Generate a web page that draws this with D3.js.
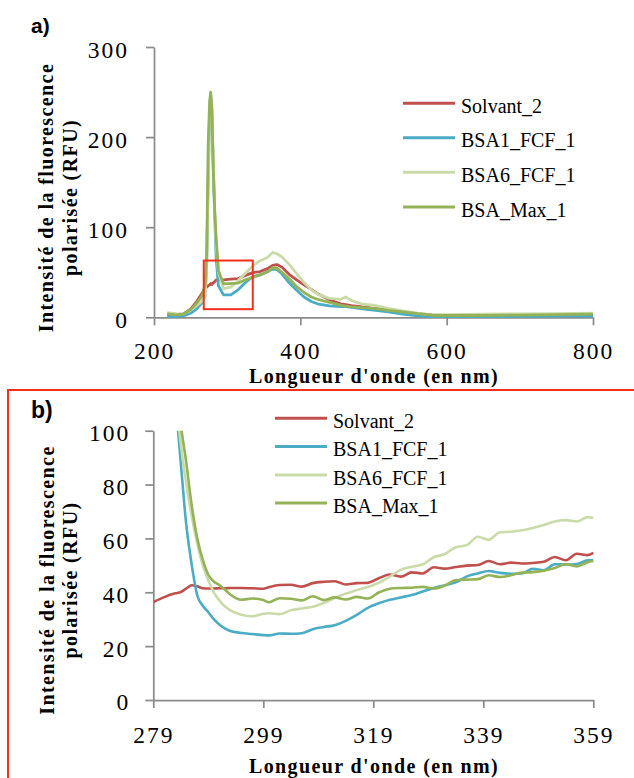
<!DOCTYPE html>
<html>
<head>
<meta charset="utf-8">
<script src="https://cdn.jsdelivr.net/npm/d3@7"></script>
<style>
  body { margin: 0; background: #fff; }
</style>
</head>
<body>
<div id="chart"></div>
<script>
// series names + colours (same for both panels)
const seriesNames = ["Solvant_2", "BSA1_FCF_1", "BSA6_FCF_1", "BSA_Max_1"];
const seriesColors = ["#c0504d", "#4bacc6", "#cadba9", "#94b356"];

// panel a) full spectrum
const wavesA = [218, 230, 240, 250, 258, 265, 270, 272, 274, 276,
  277.5, 279, 281, 283, 285, 288, 295, 305, 315, 325,
  335, 345, 355, 362, 368, 375, 385, 395, 405, 415,
  425, 440, 455, 462, 470, 485, 500, 520, 540, 560,
  580, 600, 650, 700, 750, 800];
const solvantA = [2.6, 3, 3.7, 9, 17, 26, 32, 33.5, 35, 36,
  37.5, 36.4, 38.2, 39.6, 41.4, 41.5, 41.6, 42.3, 43, 46.5,
  49.6, 50.8, 54, 57.5, 58.5, 55.5, 47.5, 41.5, 36, 31,
  25.5, 19.5, 15, 14, 13, 11.5, 10, 8, 6, 4,
  2.8, 2.2, 1.8, 1.8, 2, 2.5];
const bsa1A = [0.7, 1, 1.5, 4.5, 9, 15.5, 24, 60, 150, 225,
  245, 230, 165, 112, 65, 35, 24.9, 24.8, 30.5, 38.6,
  45, 47, 50.5, 53.5, 53, 48, 38, 30, 22.5, 17.5,
  14.5, 12.6, 12, 11.8, 11, 9.5, 8, 6, 3.5, 1.5,
  0.7, 0.7, 0.8, 1, 1.2, 1.5];
const bsa6A = [5.2, 4, 3.7, 8, 13, 17.4, 24, 55, 150, 228,
  247, 232, 175, 115, 80, 50, 31.7, 33.5, 40.8, 49,
  57, 62.8, 66.3, 72, 70.5, 67, 58.5, 48.5, 38.5, 30.5,
  25, 21, 20, 22.5, 18.5, 14.5, 13.5, 10, 7, 4.5,
  2.8, 3, 3.5, 3.8, 4, 4.5];
const bsaMaxA = [3.7, 2.8, 3.5, 8.5, 15.5, 23, 36, 70, 190, 240,
  250, 232, 165, 118, 88, 52, 37.2, 37.5, 38, 41.6,
  44.5, 47, 50.5, 55, 54.5, 50, 42.5, 34, 27.5, 22.5,
  19.5, 16.5, 13.5, 12.5, 11.5, 10.8, 10, 7.8, 6, 4,
  2.3, 2, 2, 2.5, 3, 3.5];

// zoom box drawn on panel a (wavelength, intensity)
const boxWave = [268, 335];
const boxInt = [9, 63];

// panel b) zoom 279-359 nm
const wavesB = [279, 281, 283, 284, 285, 286, 287, 288, 289, 290,
  291, 292, 293, 295, 297, 299, 300, 302, 304, 306,
  308, 310, 312, 314, 316, 318, 320, 322, 324, 326,
  328, 330, 332, 334, 336, 338, 340, 342, 344, 346,
  348, 350, 352, 354, 356, 358, 359];
const solvantB = [36.4, 38.2, 39.6, 40.1, 41.4, 42.6, 42.2, 41.5, 41.4, 41.4,
  41.5, 41.5, 41.6, 41.6, 41.5, 41.3, 41.9, 42.7, 42.8, 42.1,
  43.4, 43.9, 44.1, 42.9, 43.4, 43.5, 45.2, 46.6, 45.8, 47.4,
  47, 49.3, 48.8, 49.4, 49.9, 50.1, 51.6, 50.4, 51, 50.7,
  50.9, 51.3, 53.1, 51.9, 54.3, 53.8, 54.6];
const bsa1B = [230, 165, 112, 88, 65, 50, 38.8, 35, 32.6, 30,
  28, 26.6, 25.6, 24.9, 24.5, 24.1, 24, 24.7, 24.6, 24.8,
  26.3, 27.1, 27.8, 29.4, 31.6, 34.2, 35.9, 37.2, 38.1, 39,
  40.3, 41.6, 42.6, 43.7, 45.9, 47, 47.9, 47.2, 46.9, 47,
  48.7, 48.2, 50.4, 50.3, 50.5, 51.9, 51.9];
const bsa6B = [232, 175, 115, 95, 80, 68, 58, 50, 44.5, 40,
  37, 34.8, 33.3, 31.7, 31.1, 32, 32.2, 31.9, 33.3, 34,
  34.6, 36, 37.9, 39.5, 40.8, 42, 43.5, 45.8, 48.3, 49.5,
  50.4, 53, 54.2, 56.7, 57.5, 60.6, 59.5, 62.3, 62.5, 63,
  63.9, 65, 66.3, 66.8, 66.3, 67.9, 67.6];
const bsaMaxB = [232, 165, 118, 102, 88, 72, 60, 52, 46.5, 44,
  42.7, 41, 39.2, 37.2, 37.7, 37.1, 36.3, 37.8, 37.6, 37,
  38.5, 37.1, 38.1, 37.3, 38.3, 37.7, 39.9, 41.3, 41.6, 41.7,
  42, 41.4, 42.5, 44.5, 44.7, 44.9, 46.3, 45.7, 46.3, 47.3,
  47.5, 48, 49, 50.4, 49.6, 51.2, 51.6];

const ticksA_x = [200, 400, 600, 800];
const ticksA_y = [0, 100, 200, 300];
const ticksB_x = [279, 299, 319, 339, 359];
const ticksB_y = [0, 20, 40, 60, 80, 100];

const axisCol = "#8c8c8c";
const serif = "'Liberation Serif', 'Times New Roman', serif";

const svg = d3.select("#chart").append("svg")
  .attr("width", 634)
  .attr("height", 778);

function styleAxis(g) {
  g.attr("font-family", serif).attr("font-size", 23.5);
  g.select(".domain").attr("stroke", axisCol).attr("stroke-width", 1.75);
  g.selectAll(".tick line").attr("stroke", axisCol).attr("stroke-width", 1.75);
  g.selectAll(".tick text").attr("fill", "#000").style("letter-spacing", "2px");
}

function yTitle(cx1, cx2, cy) {
  const t = [["Intensité de la fluorescence", cx1], ["polarisée (RFU)", cx2]];
  t.forEach(([s, x]) => {
    svg.append("text")
      .attr("transform", `translate(${x},${cy}) rotate(-90)`)
      .attr("text-anchor", "middle")
      .attr("font-family", serif)
      .attr("font-weight", "bold")
      .attr("font-size", 20)
      .style("letter-spacing", "1.4px")
      .text(s);
  });
}

function xTitle(cx, y) {
  svg.append("text")
    .attr("x", cx).attr("y", y)
    .attr("text-anchor", "middle")
    .attr("font-family", serif)
    .attr("font-weight", "bold")
    .attr("font-size", 20)
    .style("letter-spacing", "1.4px")
    .text("Longueur d'onde (en nm)");
}

function legend(x0, rows) {
  seriesNames.forEach((name, i) => {
    svg.append("line")
      .attr("x1", x0).attr("x2", x0 + 52)
      .attr("y1", rows[i]).attr("y2", rows[i])
      .attr("stroke", seriesColors[i])
      .attr("stroke-width", 3);
    svg.append("text")
      .attr("x", x0 + 58).attr("y", rows[i] + 9.5)
      .attr("font-family", serif)
      .attr("font-size", 20)
      .text(name);
  });
}

// ---------- panel a ----------
const xA = d3.scaleLinear().domain([200, 800]).range([154, 593]);
const yA = d3.scaleLinear().domain([0, 300]).range([317.3, 47]);

svg.append("g")
  .attr("transform", "translate(154,0)")
  .call(d3.axisLeft(yA).tickValues(ticksA_y).tickSize(8).tickSizeOuter(0).tickPadding(17))
  .call(styleAxis)
  .call(g => g.selectAll(".tick text").attr("dy", "0.45em"));
svg.append("g")
  .attr("transform", "translate(0,317.3)")
  .call(d3.axisBottom(xA).tickValues(ticksA_x).tickSize(8).tickSizeOuter(0).tickPadding(17.5))
  .call(styleAxis);

const seriesA = [solvantA, bsa1A, bsa6A, bsaMaxA];
const lineA = d3.line()
  .x((d, i) => xA(wavesA[i]))
  .y(d => yA(d));
svg.selectAll("path.seriesA")
  .data(seriesA)
  .join("path")
    .attr("class", "seriesA")
    .attr("d", d => lineA(d))
    .attr("fill", "none")
    .attr("stroke", (d, i) => seriesColors[i])
    .attr("stroke-width", 2.8)
    .attr("stroke-linejoin", "round");

svg.append("rect")
  .attr("x", xA(boxWave[0]))
  .attr("y", yA(boxInt[1]))
  .attr("width", xA(boxWave[1]) - xA(boxWave[0]))
  .attr("height", yA(boxInt[0]) - yA(boxInt[1]))
  .attr("fill", "none")
  .attr("stroke", "#f2301c")
  .attr("stroke-width", 2);

legend(403, [103.3, 137.7, 172.3, 207]);
yTitle(53, 77, 197.5);
xTitle(374, 383);

svg.append("text")
  .attr("x", 31).attr("y", 33)
  .attr("font-family", "'Liberation Sans', Arial, sans-serif")
  .attr("font-weight", "bold")
  .attr("font-size", 21)
  .text("a)");

// ---------- panel b ----------
svg.append("rect")
  .attr("x", 8).attr("y", 390)
  .attr("width", 700).attr("height", 500)
  .attr("fill", "none")
  .attr("stroke", "#f2301c")
  .attr("stroke-width", 2);

const xB = d3.scaleLinear().domain([279, 359]).range([153.3, 593.3]);
const yB = d3.scaleLinear().domain([0, 100]).range([700, 430.7]);

svg.append("defs").append("clipPath")
  .attr("id", "clipB")
  .append("rect")
    .attr("x", xB(279)).attr("y", yB(100))
    .attr("width", xB(359) - xB(279) + 2)
    .attr("height", yB(0) - yB(100));

svg.append("g")
  .attr("transform", "translate(153.3,0)")
  .call(d3.axisLeft(yB).tickValues(ticksB_y).tickSize(8).tickSizeOuter(0).tickPadding(15))
  .call(styleAxis)
  .call(g => g.selectAll(".tick text").attr("dy", "0.42em"));
svg.append("g")
  .attr("transform", "translate(0,700)")
  .call(d3.axisBottom(xB).tickValues(ticksB_x).tickSize(8).tickSizeOuter(0).tickPadding(18))
  .call(styleAxis);

const seriesB = [solvantB, bsa1B, bsa6B, bsaMaxB];
const lineB = d3.line()
  .x((d, i) => xB(wavesB[i]))
  .y(d => yB(d))
  .curve(d3.curveMonotoneX);
svg.append("g")
  .attr("clip-path", "url(#clipB)")
  .selectAll("path")
  .data(seriesB)
  .join("path")
    .attr("d", d => lineB(d))
    .attr("fill", "none")
    .attr("stroke", (d, i) => seriesColors[i])
    .attr("stroke-width", 2.6)
    .attr("stroke-linejoin", "round");

legend(275, [418.3, 446.5, 475, 503]);
yTitle(54, 77, 580);
xTitle(374, 773);

svg.append("text")
  .attr("x", 31).attr("y", 418)
  .attr("font-family", "'Liberation Sans', Arial, sans-serif")
  .attr("font-weight", "bold")
  .attr("font-size", 23)
  .text("b)");
</script>
</body>
</html>
